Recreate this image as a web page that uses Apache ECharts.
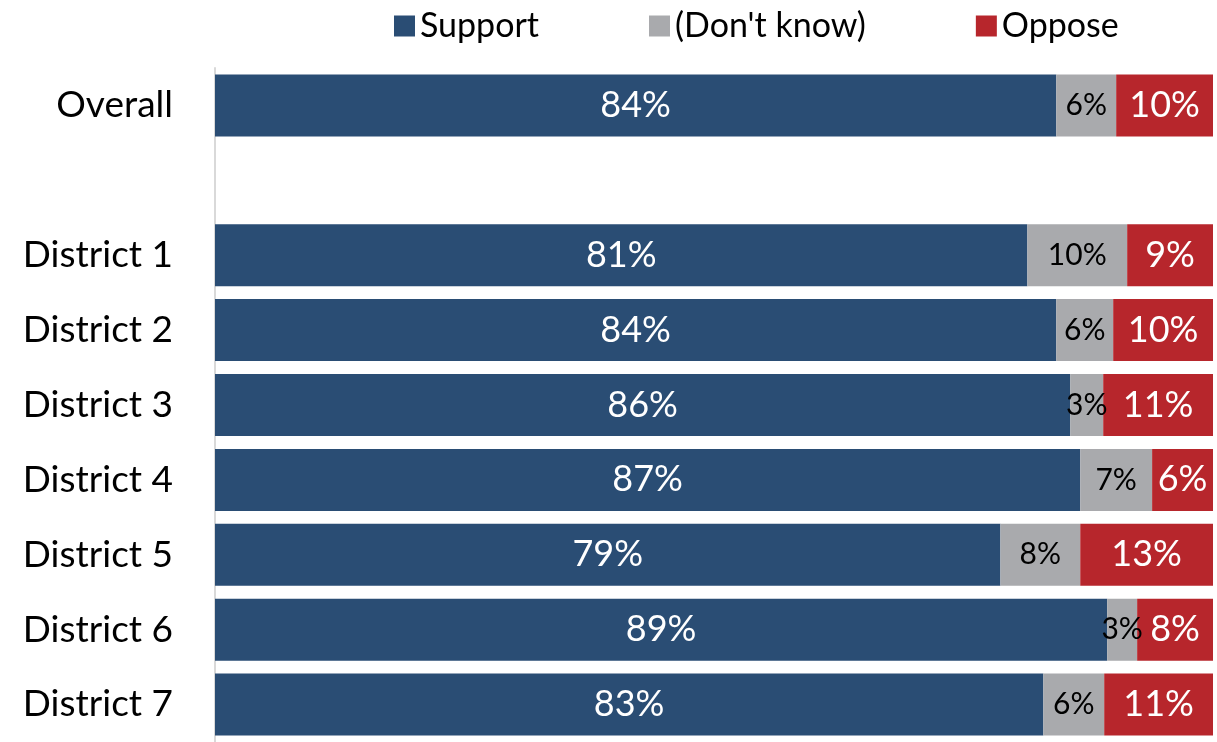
<!DOCTYPE html>
<html>
<head>
<meta charset="utf-8">
<script src="https://cdn.jsdelivr.net/npm/echarts@6/dist/echarts.min.js"></script>
<style>
  html, body { margin: 0; padding: 0; background: #fff; }
  #chart { width: 1217px; height: 742px; }
</style>
</head>
<body>
<div id="chart"></div>
<script>
// rows, top to bottom (blank row is the gap under Overall)
var categories = ['Overall', '', 'District 1', 'District 2', 'District 3', 'District 4', 'District 5', 'District 6', 'District 7'];
var supportVals = [84.3, null, 81.4, 84.3, 85.7, 86.7, 78.7, 89.4, 83.0];
var dontKnowVals = [6.0, null, 10.0, 5.7, 3.3, 7.2, 8.0, 3.0, 6.1];
var opposeVals = [9.7, null, 8.6, 10.0, 11.0, 6.1, 13.3, 7.6, 10.9];

var fontName = 'Lato';

function pct(p) {
    return Math.round(p.value) + '%';
}

var chart = echarts.init(document.getElementById('chart'));

var option = {
    animation: false,
    textStyle: { fontFamily: fontName },
    legend: {
        top: 4,
        left: 389,
        itemWidth: 21,
        itemHeight: 21,
        itemGap: 110,
        icon: 'rect',
        textStyle: { fontSize: 34, color: '#000', fontFamily: fontName },
        data: ['Support', "(Don't know)", 'Oppose']
    },
    grid: { left: 215, right: 4, top: 68, height: 675, containLabel: false },
    xAxis: {
        type: 'value',
        min: 0,
        max: 100,
        show: false
    },
    yAxis: {
        type: 'category',
        inverse: true,
        data: categories,
        axisLine: { show: true, lineStyle: { color: '#d9d9d9', width: 2 } },
        axisTick: { show: false },
        axisLabel: { margin: 42, fontSize: 37, color: '#000', fontFamily: fontName }
    },
    series: [
        {
            name: 'Support',
            type: 'bar',
            stack: 'all',
            barWidth: 62,
            data: supportVals,
            itemStyle: { color: '#2a4d74' },
            label: { show: true, position: 'inside', color: '#fff', fontSize: 36, formatter: pct }
        },
        {
            name: "(Don't know)",
            type: 'bar',
            stack: 'all',
            barWidth: 62,
            data: dontKnowVals,
            itemStyle: { color: '#a9aaad' },
            label: { show: true, position: 'inside', color: '#000', fontSize: 30, formatter: pct }
        },
        {
            name: 'Oppose',
            type: 'bar',
            stack: 'all',
            barWidth: 62,
            data: opposeVals,
            itemStyle: { color: '#b7262c' },
            label: { show: true, position: 'inside', color: '#fff', fontSize: 36, formatter: pct }
        }
    ]
};

chart.setOption(option);
</script>
</body>
</html>
